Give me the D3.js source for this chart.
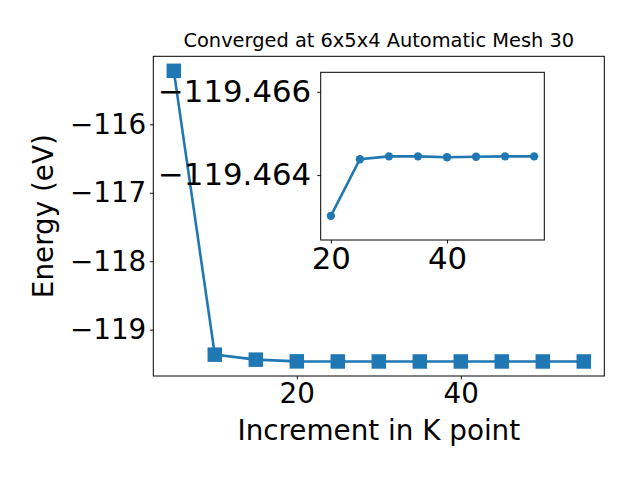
<!DOCTYPE html>
<html><head><meta charset="utf-8">
<script src="https://cdn.jsdelivr.net/npm/d3@7"></script>
<style>body{margin:0;background:#fff}svg{display:block}text{font-family:"DejaVu Sans",sans-serif}</style>
</head><body><svg id="c" width="640" height="480"></svg>
<script>
const kPoints = [5,10,15,20,25,30,35,40,45,50,55];
const energies = [-115.218,-119.365,-119.438,-119.463,-119.4644,-119.46445,-119.46445,-119.46443,-119.46444,-119.46445,-119.46445];
const insetK = [20,25,30,35,40,45,50,55];
const insetE = [-119.46302,-119.46438,-119.46445,-119.46445,-119.46443,-119.46444,-119.46445,-119.46445];
const mainXTicks = [20,40];
const mainYTicks = [-116,-117,-118,-119];
const insetXTicks = [20,40];
const insetYTicks = [-119.466,-119.464];
const title = "Converged at 6x5x4 Automatic Mesh 30";
const xLabel = "Increment in K point";
const yLabel = "Energy (eV)";
const color = "#1f77b4";

const svg = d3.select("#c");
svg.append("rect").attr("width",640).attr("height",480).attr("fill","#fff");

// main axes
const M = {l:153.3,r:604.3,t:56.3,b:376};
const x = d3.scaleLinear().domain([2.5,57.5]).range([M.l,M.r]);
const yMin = d3.min(energies), yMax = d3.max(energies), span = yMax-yMin;
const y = d3.scaleLinear().domain([yMin-0.05*span, yMax+0.05*span]).range([M.b,M.t]);

const fmtMinus = d => (d<0?"\u2212":"")+Math.abs(d);

const gx = svg.append("g").attr("transform",`translate(0,${M.b})`)
  .call(d3.axisBottom(x).tickValues(mainXTicks).tickSize(3.5).tickPadding(3.5).tickSizeOuter(0).tickFormat(d=>d));
const gy = svg.append("g").attr("transform",`translate(${M.l},0)`)
  .call(d3.axisLeft(y).tickValues(mainYTicks).tickSize(3.5).tickPadding(3.5).tickSizeOuter(0).tickFormat(fmtMinus));
[gx,gy].forEach(g=>{
  g.select(".domain").remove();
  g.selectAll("line").attr("stroke","#000").attr("stroke-width",0.9);
  g.selectAll("text").attr("font-size",27.8).attr("fill","#000").attr("font-family","DejaVu Sans");
});

const line = d3.line().x((d,i)=>x(kPoints[i])).y(d=>y(d));
svg.append("path").datum(energies).attr("d",line).attr("fill","none").attr("stroke",color).attr("stroke-width",2.6);
const sq = 14.5;
svg.append("g").selectAll("rect").data(energies).join("rect")
  .attr("x",(d,i)=>x(kPoints[i])-sq/2).attr("y",d=>y(d)-sq/2)
  .attr("width",sq).attr("height",sq).attr("fill",color);

svg.append("rect").attr("x",M.l).attr("y",M.t).attr("width",M.r-M.l).attr("height",M.b-M.t)
  .attr("fill","none").attr("stroke","#000").attr("stroke-width",1);

svg.append("text").attr("x",(M.l+M.r)/2).attr("y",47).attr("text-anchor","middle")
  .attr("font-size",19.4).text(title);
svg.append("text").attr("x",(M.l+M.r)/2).attr("y",440).attr("text-anchor","middle")
  .attr("font-size",27.8).text(xLabel);
svg.append("text").attr("transform",`translate(53,${(M.t+M.b)/2}) rotate(-90)`).attr("text-anchor","middle")
  .attr("font-size",27.8).text(yLabel);

// inset
const I = {l:320.7,r:544.3,t:72.3,b:240};
const xi = d3.scaleLinear().domain([18.25,56.75]).range([I.l,I.r]);
const yi = d3.scaleLinear().domain([-119.46647,-119.46244]).range([I.t,I.b]);
svg.append("rect").attr("x",I.l).attr("y",I.t).attr("width",I.r-I.l).attr("height",I.b-I.t).attr("fill","#fff");
const lineI = d3.line().x((d,i)=>xi(insetK[i])).y(d=>yi(d));
svg.append("path").datum(insetE).attr("d",lineI).attr("fill","none").attr("stroke",color).attr("stroke-width",2.6);
svg.append("g").selectAll("circle").data(insetE).join("circle")
  .attr("cx",(d,i)=>xi(insetK[i])).attr("cy",d=>yi(d)).attr("r",4.2).attr("fill",color);
svg.append("rect").attr("x",I.l).attr("y",I.t).attr("width",I.r-I.l).attr("height",I.b-I.t)
  .attr("fill","none").attr("stroke","#000").attr("stroke-width",1);
const gxi = svg.append("g").attr("transform",`translate(0,${I.b})`)
  .call(d3.axisBottom(xi).tickValues(insetXTicks).tickSize(3.5).tickPadding(3.5).tickSizeOuter(0).tickFormat(d=>d));
const gyi = svg.append("g").attr("transform",`translate(${I.l},0)`)
  .call(d3.axisLeft(yi).tickValues(insetYTicks).tickSize(3.5).tickPadding(6).tickSizeOuter(0).tickFormat(d=>fmtMinus(+d.toFixed(3))));
[gxi,gyi].forEach(g=>{
  g.select(".domain").remove();
  g.selectAll("line").attr("stroke","#000").attr("stroke-width",0.9);
  g.selectAll("text").attr("font-size",30.8).attr("fill","#000").attr("font-family","DejaVu Sans");
});
</script></body></html>
